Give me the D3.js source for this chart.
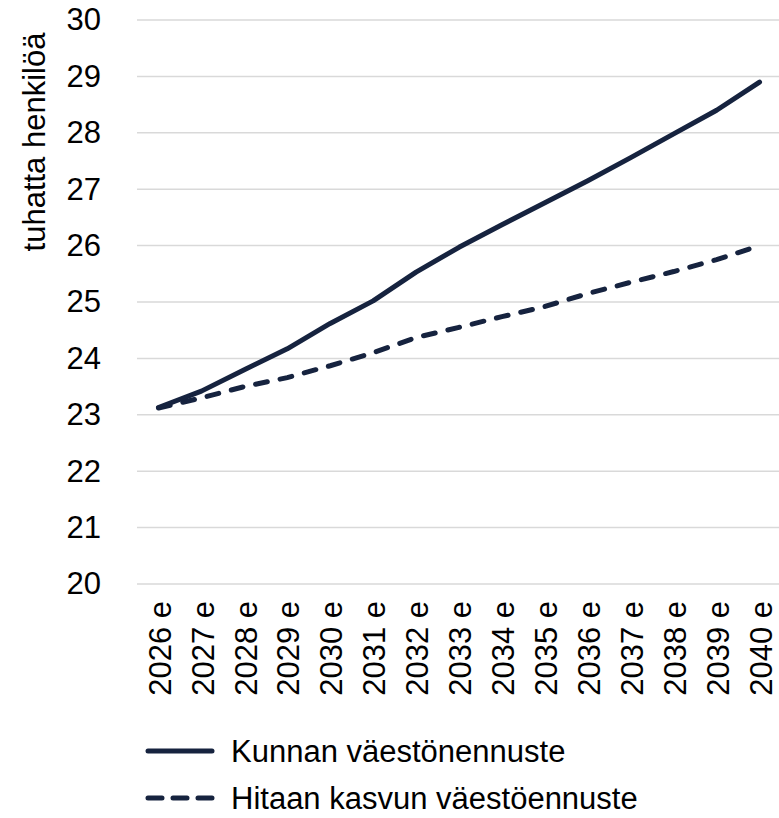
<!DOCTYPE html>
<html>
<head>
<meta charset="utf-8">
<script src="https://cdn.jsdelivr.net/npm/d3@7"></script>
<style>
  body { margin: 0; background: #fff; }
  text { font-family: "Liberation Sans", Arial, sans-serif; fill: #000; }
</style>
</head>
<body>
<svg id="chart" width="779" height="818"></svg>
<script>
var years = ["2026 e","2027 e","2028 e","2029 e","2030 e","2031 e","2032 e","2033 e",
             "2034 e","2035 e","2036 e","2037 e","2038 e","2039 e","2040 e"];
var kunnan = [23.13, 23.42, 23.8, 24.17, 24.62, 25.02, 25.53, 25.97, 26.37, 26.76, 27.15, 27.56, 27.98, 28.4, 28.9];
var hitaan = [23.12, 23.3, 23.5, 23.66, 23.87, 24.1, 24.37, 24.55, 24.74, 24.92, 25.15, 25.35, 25.54, 25.75, 26.0];
var yTicks = [20, 21, 22, 23, 24, 25, 26, 27, 28, 29, 30];
var seriesNames = ["Kunnan väestönennuste", "Hitaan kasvun väestöennuste"];

var svg = d3.select("#chart");
var lineColor = "#16233f";
var fontSize = "31px";

var x = d3.scaleBand().domain(years).range([137, 781]);
var y = d3.scaleLinear().domain([20, 30]).range([584, 20]);

// gridlines
svg.append("g").selectAll("line")
    .data(yTicks)
    .enter().append("line")
    .attr("x1", 137).attr("x2", 779)
    .attr("y1", function(d) { return y(d); })
    .attr("y2", function(d) { return y(d); })
    .attr("stroke", "#d9d9d9")
    .attr("stroke-width", 1.5);

// y axis labels
var yAxis = svg.append("g")
    .attr("transform", "translate(101,0)")
    .call(d3.axisLeft(y).tickValues(yTicks).tickSize(0).tickPadding(0));
yAxis.select(".domain").remove();
yAxis.selectAll("text")
    .style("font-size", fontSize)
    .style("font-family", "Liberation Sans, Arial, sans-serif")
    .attr("fill", "#000");

svg.append("text")
    .attr("transform", "translate(45,142) rotate(-90)")
    .attr("text-anchor", "middle")
    .style("font-size", fontSize)
    .text("tuhatta henkilöä");

// x labels
svg.append("g").selectAll("text")
    .data(years)
    .enter().append("text")
    .attr("transform", function(d) {
        return "translate(" + (x(d) + x.bandwidth() / 2 + 1) + ",601) rotate(-90)";
    })
    .attr("text-anchor", "end")
    .attr("dy", "0.36em")
    .style("font-size", fontSize)
    .text(function(d) { return d; });

var line = d3.line()
    .x(function(d, i) { return x(years[i]) + x.bandwidth() / 2; })
    .y(function(d) { return y(d); });

svg.append("path")
    .datum(hitaan)
    .attr("d", line)
    .attr("fill", "none")
    .attr("stroke", lineColor)
    .attr("stroke-width", 5)
    .attr("stroke-linecap", "round")
    .attr("stroke-dasharray", "12,13");

svg.append("path")
    .datum(kunnan)
    .attr("d", line)
    .attr("fill", "none")
    .attr("stroke", lineColor)
    .attr("stroke-width", 5)
    .attr("stroke-linecap", "round")
    .attr("stroke-linejoin", "round");

// legend
var legend = svg.append("g").selectAll("g")
    .data(seriesNames)
    .enter().append("g")
    .attr("transform", function(d, i) { return "translate(0," + (751 + i * 47) + ")"; });

legend.append("line")
    .attr("x1", 148).attr("x2", 212)
    .attr("stroke", lineColor)
    .attr("stroke-width", 5)
    .attr("stroke-linecap", "round")
    .attr("stroke-dasharray", function(d, i) { return i === 1 ? "14,11" : null; });

legend.append("text")
    .attr("x", 231)
    .attr("dy", "0.36em")
    .style("font-size", "31px")
    .text(function(d) { return d; });
</script>
</body>
</html>
